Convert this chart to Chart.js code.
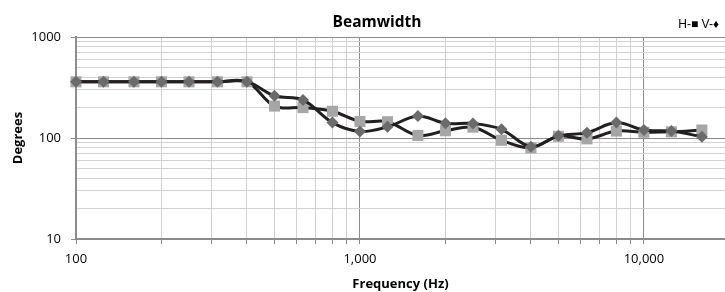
<!DOCTYPE html>
<html>
<head>
<meta charset="utf-8">
<script src="https://cdn.jsdelivr.net/npm/chart.js@4.4.1/dist/chart.umd.min.js"></script>
<style>
  html, body { margin: 0; padding: 0; background: #fff; overflow: hidden; }
  canvas { display: block; }
</style>
</head>
<body>
<canvas id="c" width="725" height="292"></canvas>
<script>
// beamwidth per 1/3-octave band
const freqs   = [100, 125, 160, 200, 250, 315, 400, 500, 630, 800, 1000, 1250, 1600, 2000, 2500, 3150, 4000, 5000, 6300, 8000, 10000, 12500, 16000];
const hValues = [360, 360, 360, 360, 360, 360, 360, 207, 200, 184, 146, 145, 106, 118, 128, 95, 80, 104, 98, 117, 114, 115, 120];
const vValues = [360, 360, 360, 360, 360, 360, 360, 262, 238, 142, 116, 129, 165, 140, 139, 122, 82, 105, 113, 142, 120, 117, 103];
const xTickLabels = [100, 1000, 10000];
const yTickLabels = [10, 100, 1000];

const INK = "#000";
const GRID = "#d2d2d2", GRID_MAJOR = "#8c8c8c";

function logSteps(lo, hi) {          // 1..9 x each decade, for the minor grid
  const out = [];
  for (let d = lo; d < hi; d *= 10) for (let m = 1; m < 10; m++) out.push({ value: m * d });
  out.push({ value: hi });
  return out;
}

const textPlugin = {
  id: "texts",
  afterDraw(chart) {
    const ctx = chart.ctx;
    ctx.save();
    ctx.fillStyle = INK;
    ctx.textBaseline = "alphabetic";
    ctx.textAlign = "center";
    ctx.font = 'bold 15.5px "Open Sans"';
    ctx.fillText("Beamwidth", 377, 26.5);
    ctx.textAlign = "right";
    ctx.font = '12px "Liberation Sans"';
    ctx.fillText("H-\u25A0 V-\u2666", 719, 27.5);
    ctx.restore();
  },
};

new Chart(document.getElementById("c").getContext("2d"), {
  type: "line",
  data: {
    datasets: [
      {
        label: "H", order: 1,
        data: freqs.map((f, i) => ({ x: f, y: hValues[i] })),
        borderColor: "#231f20", borderWidth: 3, tension: 0.35, clip: false,
        pointStyle: "rect", pointRadius: 7.8, pointBackgroundColor: "#a6a6a6", pointBorderWidth: 0,
      },
      {
        label: "V", order: 0,
        data: freqs.map((f, i) => ({ x: f, y: vValues[i] })),
        borderColor: "#231f20", borderWidth: 3, tension: 0.35, clip: false,
        pointStyle: "rectRot", pointRadius: 6, pointBackgroundColor: "#6b6b6b", pointBorderWidth: 0,
      },
    ],
  },
  options: {
    responsive: false, animation: false,
    layout: { autoPadding: false, padding: { top: 37, right: 0, left: 0, bottom: 0 } },
    plugins: { legend: { display: false }, tooltip: { enabled: false }, title: { display: false } },
    scales: {
      x: {
        type: "logarithmic", min: 100, max: 19300,
        afterBuildTicks: s => { s.ticks = logSteps(100, 10000); },
        afterFit: s => { s.height = 53; s.paddingLeft = 0; s.paddingRight = 0; },
        ticks: {
          color: INK, font: { family: "Open Sans", size: 13 }, padding: 7,
          autoSkip: false, maxRotation: 0,
          callback: v => xTickLabels.includes(v) ? v.toLocaleString("en-US") : "",
        },
        grid: {
          color: c => xTickLabels.includes(c.tick && c.tick.value) ? GRID_MAJOR : GRID,
          lineWidth: 1, tickLength: 5, tickColor: GRID_MAJOR,
        },
        border: { color: GRID_MAJOR, width: 2 },
        title: { display: true, text: "Frequency (Hz)", color: INK,
                 font: { family: "Open Sans", size: 13, weight: "bold" }, padding: { top: 0, bottom: 0 } },
      },
      y: {
        type: "logarithmic", min: 10, max: 1000,
        afterBuildTicks: s => { s.ticks = logSteps(10, 1000); },
        afterFit: s => { s.width = 76; s.paddingTop = 0; s.paddingBottom = 0; },
        ticks: {
          color: INK, font: { family: "Open Sans", size: 13 }, padding: 10, autoSkip: false,
          callback: v => yTickLabels.includes(v) ? String(v) : "",
        },
        grid: {
          color: c => yTickLabels.includes(c.tick && c.tick.value) ? GRID_MAJOR : GRID,
          lineWidth: 1, tickLength: 5,
          tickColor: c => yTickLabels.includes(c.tick && c.tick.value) ? GRID_MAJOR : "rgba(0,0,0,0)",
        },
        border: { color: GRID_MAJOR, width: 2 },
        title: { display: true, text: "Degrees", color: INK,
                 font: { family: "Open Sans", size: 13, weight: "bold" }, padding: { top: 10, bottom: 0 } },
      },
    },
  },
  plugins: [textPlugin],
});
</script>
</body>
</html>
